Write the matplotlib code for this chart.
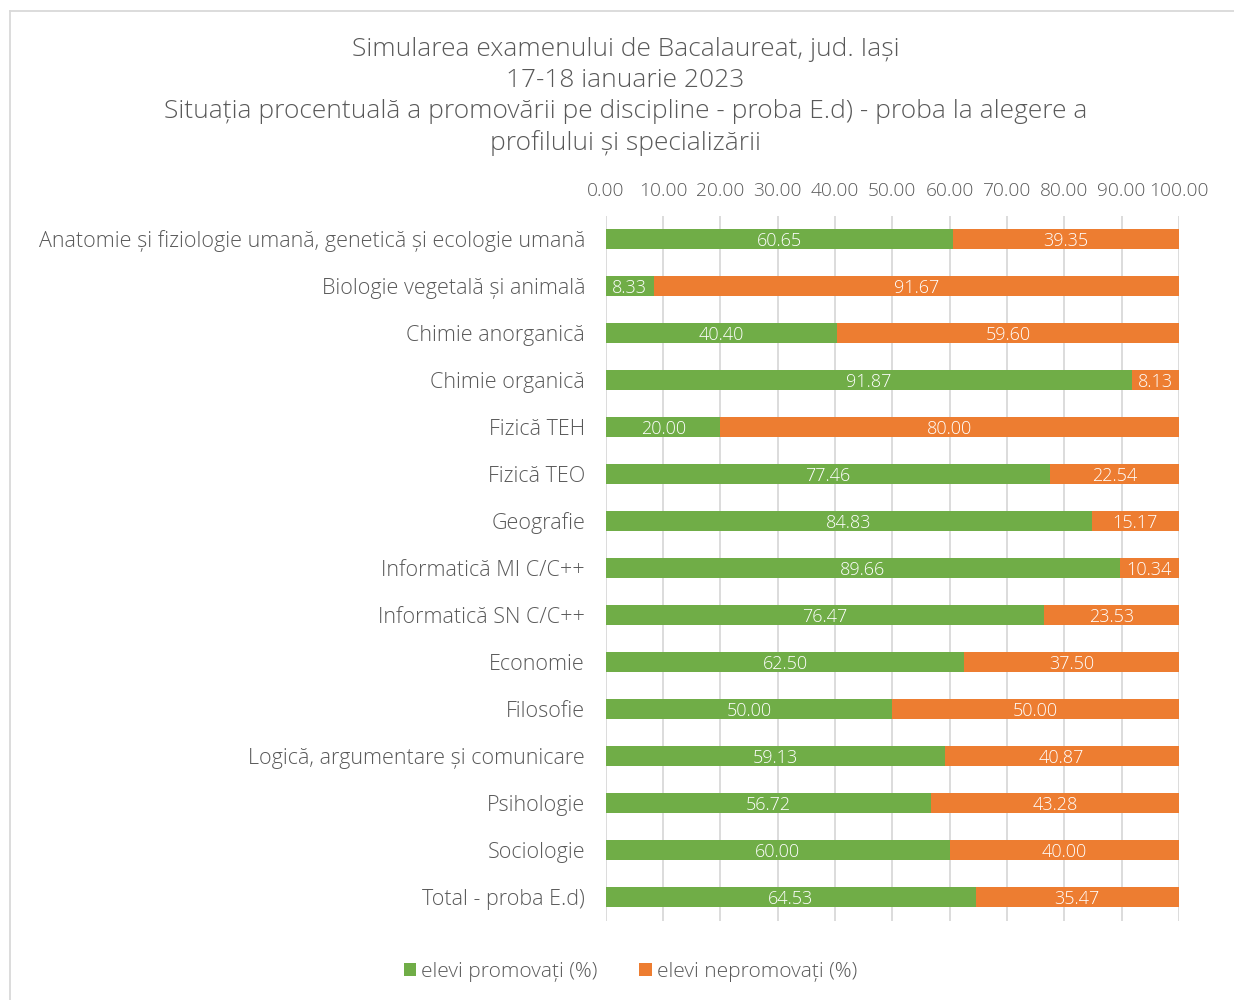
import matplotlib.pyplot as plt
import numpy as np

plt.rcParams['font.family'] = ['Open Sans', 'DejaVu Sans']
plt.rcParams['font.weight'] = 'light'

categorii = ['Anatomie și fiziologie umană, genetică și ecologie umană',
             'Biologie vegetală și animală', 'Chimie anorganică',
             'Chimie organică', 'Fizică TEH', 'Fizică TEO', 'Geografie',
             'Informatică MI C/C++', 'Informatică SN C/C++', 'Economie',
             'Filosofie', 'Logică, argumentare și comunicare', 'Psihologie',
             'Sociologie', 'Total - proba E.d)']
promovati = [60.65, 8.33, 40.40, 91.87, 20.00, 77.46, 84.83, 89.66, 76.47,
             62.50, 50.00, 59.13, 56.72, 60.00, 64.53]
nepromovati = [39.35, 91.67, 59.60, 8.13, 80.00, 22.54, 15.17, 10.34, 23.53,
               37.50, 50.00, 40.87, 43.28, 40.00, 35.47]
ticks = np.arange(0, 101, 10)

verde = '#70ad47'
portocaliu = '#ed7d31'
gri = '#595959'

fig = plt.figure(figsize=(12.34, 10), dpi=100)
ax = fig.add_axes([0.491, 0.0795, 0.4643, 0.705])

y = np.arange(len(categorii))
b1 = ax.barh(y, promovati, height=0.41, color=verde, label='elevi promovați (%)', zorder=3)
b2 = ax.barh(y, nepromovati, left=promovati, height=0.41, color=portocaliu,
             label='elevi nepromovați (%)', zorder=3)
for bars, vals in [(b1, promovati), (b2, nepromovati)]:
    for r, v in zip(bars, vals):
        ax.text(r.get_x() + r.get_width() / 2, r.get_y() + r.get_height() / 2 + 0.04,
                '%.2f' % v, ha='center', va='center', color='white',
                fontsize=13, zorder=4)

ax.set_xlim(0, 100)
ax.set_ylim(len(categorii) - 0.5, -0.5)
ax.set_yticks(y)
ax.set_yticklabels(categorii, fontsize=15.5, color=gri)
ax.set_xticks(ticks)
ax.set_xticklabels(['%.2f' % t for t in ticks], fontsize=13.8, color=gri)
ax.xaxis.tick_top()
ax.tick_params(axis='both', length=0)
ax.tick_params(axis='x', pad=11)
ax.tick_params(axis='y', pad=15)
ax.grid(axis='x', color='#d9d9d9', linewidth=1.3, zorder=0)
for s in ax.spines.values():
    s.set_visible(False)

fig.text(0.507, 0.963,
         'Simularea examenului de Bacalaureat, jud. Iași\n17-18 ianuarie 2023\n'
         'Situația procentuală a promovării pe discipline - proba E.d) - proba la alegere a\n'
         'profilului și specializării',
         ha='center', va='top', fontsize=19, color=gri, linespacing=1.31)

fig.legend(handles=[b1, b2], loc='center', bbox_to_anchor=(0.511, 0.028), ncol=2,
           frameon=False, fontsize=15, labelcolor=gri, handlelength=0.6,
           handleheight=0.6, handletextpad=0.25, columnspacing=2.0)

# chenarul graficului
fig.add_artist(plt.Line2D([10 / 1234, 10 / 1234], [0, 1 - 11 / 1000],
                          color='#d9d9d9', linewidth=1.3))
fig.add_artist(plt.Line2D([10 / 1234, 1], [1 - 11 / 1000, 1 - 11 / 1000],
                          color='#d9d9d9', linewidth=1.3))

fig.savefig('out.png', dpi=100)
